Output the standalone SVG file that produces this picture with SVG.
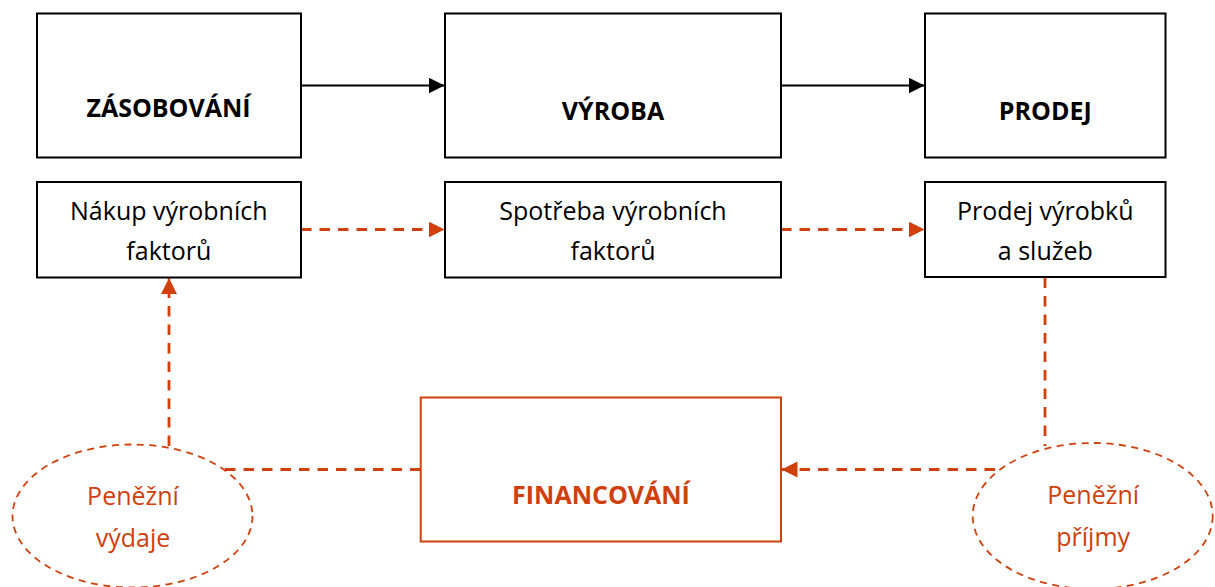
<svg xmlns="http://www.w3.org/2000/svg" width="1215" height="587" viewBox="0 0 1215 587">
<style>
.box{fill:#fff;stroke:#000;stroke-width:2}
.fbox{fill:#fff;stroke:#D0400C;stroke-width:2}
.ell{fill:none;stroke:#D0400C;stroke-width:1.8;stroke-dasharray:7 5.5}
.t{font-family:"Open Sans","Liberation Sans",sans-serif;font-size:25px;text-anchor:middle;fill:#000}
.b{font-weight:bold}
.o{fill:#D0400C}
.solid{fill:none;stroke:#000;stroke-width:2}
.dash{fill:none;stroke:#D0400C;stroke-width:2.8;stroke-dasharray:10.5 8}
</style>
<defs>
<marker id="ab" markerUnits="userSpaceOnUse" markerWidth="16" markerHeight="16" refX="16" refY="8" orient="auto"><path d="M0,0 L16,8 L0,16 Z" fill="#000"/></marker>
<marker id="ao" markerUnits="userSpaceOnUse" markerWidth="16" markerHeight="16" refX="16" refY="8" orient="auto"><path d="M0,0 L16,8 L0,16 Z" fill="#D0400C"/></marker>
</defs>
<g id="connectors">
<path class="solid" d="M301,85.5 H444.5" marker-end="url(#ab)"/>
<path class="solid" d="M781,85.5 H924.5" marker-end="url(#ab)"/>
<path class="dash" d="M301,229.5 H444.5" marker-end="url(#ao)"/>
<path class="dash" d="M781,229.5 H924.5" marker-end="url(#ao)"/>
<path class="dash" d="M1045,277.5 V446"/>
<path class="dash" d="M995,469.5 H781.5" marker-end="url(#ao)"/>
<path class="dash" d="M420.5,469.5 H222"/>
<path class="dash" d="M169,446 V278" marker-end="url(#ao)"/>
</g>
<g id="zasobovani"><rect class="box" x="37" y="13.5" width="264" height="144"/><text class="t b" x="168.5" y="116.7">ZÁSOBOVÁNÍ</text></g>
<g id="vyroba"><rect class="box" x="445" y="13.5" width="336" height="144"/><text class="t b" x="613" y="120">VÝROBA</text></g>
<g id="prodej"><rect class="box" x="925" y="13.5" width="240.5" height="144"/><text class="t b" x="1045.3" y="120">PRODEJ</text></g>
<g id="nakup"><rect class="box" x="37" y="182" width="264" height="95.5"/><text class="t" x="168.8" y="220">Nákup výrobních</text><text class="t" x="168.8" y="260">faktorů</text></g>
<g id="spotreba"><rect class="box" x="445" y="182" width="336" height="95.5"/><text class="t" x="613" y="220">Spotřeba výrobních</text><text class="t" x="613" y="260">faktorů</text></g>
<g id="prodej-vyrobku"><rect class="box" x="925" y="182" width="240.5" height="95"/><text class="t" x="1045.3" y="220">Prodej výrobků</text><text class="t" x="1045.3" y="260">a služeb</text></g>
<g id="financovani"><rect class="fbox" x="420.7" y="397.5" width="360.3" height="144"/><text class="t b o" x="601" y="504">FINANCOVÁNÍ</text></g>
<g id="penezni-vydaje"><ellipse class="ell" cx="132.5" cy="516" rx="120" ry="71.5"/><text class="t o" x="133" y="505">Peněžní</text><text class="t o" x="133" y="546.5">výdaje</text></g>
<g id="penezni-prijmy"><ellipse class="ell" cx="1092.7" cy="516" rx="120" ry="73"/><text class="t o" x="1093.2" y="503.5">Peněžní</text><text class="t o" x="1093.2" y="546">příjmy</text></g>
</svg>
